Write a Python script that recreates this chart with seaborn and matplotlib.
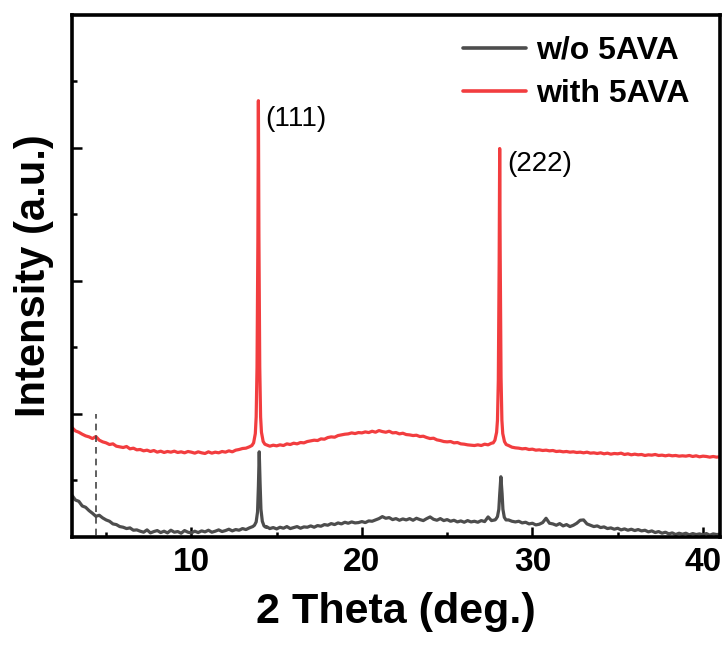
import numpy as np
import pandas as pd
import matplotlib
matplotlib.use("Agg")
import matplotlib.pyplot as plt
import seaborn as sns

# ---- XRD data -------------------------------------------------------------
# background scan on a regular 0.2 deg grid from 3.0 to 41.0 deg
scan_start, scan_stop, scan_step = 3.0, 41.0, 0.2

bg_without = [
    770, 700, 680, 610, 590, 540, 500, 455, 470, 430,
    400, 380, 340, 330, 300, 290, 270, 280, 245, 250,
    230, 215, 250, 205, 225, 240, 210, 230, 205, 245,
    215, 225, 200, 240, 215, 205, 230, 210, 235, 220,
    245, 215, 230, 250, 225, 240, 260, 235, 255, 245,
    270, 255, 280, 300, 330, 340, 320, 300, 270, 285,
    265, 290, 275, 300, 270, 285, 300, 275, 295, 290,
    310, 290, 315, 305, 330, 320, 345, 330, 355, 340,
    365, 350, 370, 355, 360, 375, 360, 385, 380, 400,
    420, 450, 425, 435, 405, 420, 395, 415, 400, 420,
    395, 425, 405, 390, 420, 445, 410, 395, 420, 390,
    405, 380, 395, 370, 385, 365, 390, 370, 380, 365,
    390, 375, 445, 390, 400, 410, 420, 410, 400, 380,
    370, 380, 355, 365, 340, 350, 325, 335, 360, 425,
    350, 340, 320, 345, 310, 330, 300, 320, 350, 395,
    400, 340, 320, 300, 310, 285, 295, 270, 280, 260,
    275, 250, 265, 245, 260, 240, 255, 235, 245, 220,
    235, 210, 225, 200, 215, 190, 205, 180, 200, 185,
    200, 175, 195, 180, 190, 175, 195, 170, 190, 180,
    185,
]

bg_with = [
    1790, 1740, 1720, 1690, 1665, 1650, 1625, 1655, 1600, 1575,
    1560, 1535, 1545, 1510, 1500, 1490, 1505, 1470, 1480, 1455,
    1460, 1440, 1450, 1430, 1445, 1420, 1435, 1415, 1430, 1420,
    1435, 1415, 1425, 1410, 1430, 1420, 1405, 1425, 1410, 1400,
    1425, 1405, 1420, 1410, 1430, 1420, 1440, 1425, 1450, 1460,
    1475, 1480, 1500, 1540, 1600, 1600, 1560, 1530, 1510, 1525,
    1515, 1530, 1520, 1545, 1535, 1555, 1545, 1565, 1560, 1580,
    1590, 1600, 1595, 1620, 1615, 1640, 1650, 1645, 1670, 1680,
    1690, 1695, 1710, 1700, 1715, 1710, 1725, 1715, 1735, 1720,
    1745, 1730, 1720, 1735, 1710, 1715, 1695, 1705, 1685, 1680,
    1670, 1675, 1655, 1660, 1640, 1625, 1630, 1605, 1595, 1580,
    1575, 1580, 1560, 1565, 1545, 1540, 1530, 1525, 1520, 1530,
    1520, 1540, 1530, 1555, 1570, 1600, 1600, 1560, 1520, 1495,
    1485, 1480, 1470, 1475, 1460, 1465, 1450, 1455, 1445, 1450,
    1440, 1445, 1430, 1435, 1425, 1430, 1420, 1425, 1415, 1420,
    1410, 1420, 1405, 1410, 1400, 1410, 1395, 1405, 1390, 1400,
    1395, 1405, 1385, 1395, 1380, 1390, 1380, 1385, 1370, 1380,
    1375, 1385, 1370, 1375, 1365, 1375, 1365, 1370, 1360, 1365,
    1360, 1370, 1355, 1365, 1350, 1360, 1355, 1345, 1355, 1345,
    1350,
]

# finely sampled Bragg reflections
p111_theta_without = [13.60, 13.70, 13.80, 13.88, 13.93, 13.98, 14.03, 14.08, 14.16, 14.26, 14.36]
p111_int_without = [300, 320, 370, 520, 900, 1425, 950, 560, 380, 310, 290]
p222_theta_without = [27.85, 27.95, 28.03, 28.08, 28.15, 28.22, 28.27, 28.35, 28.45]
p222_int_without = [410, 450, 560, 780, 1050, 800, 560, 440, 400]

p111_theta_with = [13.55, 13.65, 13.75, 13.80, 13.85, 13.90, 13.93, 13.96, 14.01, 14.06, 14.11, 14.21, 14.31]
p111_int_with = [1520, 1560, 1700, 1950, 2700, 4600, 6710, 4700, 2700, 1950, 1720, 1580, 1540]
p222_theta_with = [27.70, 27.80, 27.90, 27.95, 28.00, 28.05, 28.08, 28.11, 28.16, 28.21, 28.26, 28.36, 28.46]
p222_int_with = [1560, 1600, 1720, 1900, 2500, 4300, 5990, 4400, 2550, 1900, 1700, 1580, 1535]

samples = ["w/o 5AVA", "with 5AVA"]
colors = ["#4d4d4d", "#f23d3f"]

peak_labels = ["(111)", "(222)"]
peak_label_x = [14.33, 28.55]
peak_label_y = [6430, 5760]

marker_theta = 4.4
marker_top = 2000


def build_pattern(background, peaks):
    grid = np.round(scan_start + scan_step * np.arange(len(background)), 2)
    bg = np.asarray(background, dtype=float)
    keep = np.ones(len(grid), dtype=bool)
    for theta, _ in peaks:
        keep &= ~((grid >= min(theta)) & (grid <= max(theta)))
    xs = [grid[keep]] + [np.asarray(t, float) for t, _ in peaks]
    ys = [bg[keep]] + [np.asarray(v, float) for _, v in peaks]
    x = np.concatenate(xs)
    y = np.concatenate(ys)
    order = np.argsort(x)
    return x[order], y[order]


x0, y0 = build_pattern(bg_without, [(p111_theta_without, p111_int_without),
                                    (p222_theta_without, p222_int_without)])
x1, y1 = build_pattern(bg_with, [(p111_theta_with, p111_int_with),
                                 (p222_theta_with, p222_int_with)])

df = pd.concat([
    pd.DataFrame({"theta": x0, "intensity": y0, "sample": samples[0]}),
    pd.DataFrame({"theta": x1, "intensity": y1, "sample": samples[1]}),
], ignore_index=True)

# ---- styling ---------------------------------------------------------------
sns.set_theme(style="ticks")
plt.rcParams["font.family"] = ["Liberation Sans", "DejaVu Sans"]
plt.rcParams.update({
    "text.color": "black",
    "axes.labelcolor": "black",
    "xtick.color": "black",
    "ytick.color": "black",
    "axes.edgecolor": "black",
})

fig = plt.figure(figsize=(7.26, 6.45), dpi=100)
ax = fig.add_axes([72 / 726, 1 - 537 / 645, (720 - 72) / 726, (537 - 15) / 645])

sns.lineplot(data=df, x="theta", y="intensity", hue="sample",
             hue_order=samples, palette=dict(zip(samples, colors)),
             estimator=None, sort=True, linewidth=2.3, ax=ax)

ax.vlines(marker_theta, 0, marker_top, colors="#444444", linestyles=(0, (4, 3)),
          linewidth=1.2)

for lab, lx, ly in zip(peak_labels, peak_label_x, peak_label_y):
    ax.text(lx, ly, lab, fontsize=20, va="center", ha="left", color="black")

ax.set_xlim(3.0, 41.0)
ax.set_ylim(143, 8000)
ax.set_xticks([10, 20, 30, 40])
ax.set_xticks([5, 15, 25, 35], minor=True)
ax.set_yticks([2000, 4000, 6000])
ax.set_yticks([1000, 3000, 5000, 7000], minor=True)
ax.set_yticklabels([])

ax.tick_params(axis="both", which="major", direction="in", length=7, width=1.8,
               labelsize=24, pad=7, top=False, right=False, colors="black")
ax.tick_params(axis="both", which="minor", direction="in", length=3.5, width=1.8,
               top=False, right=False, colors="black")
for lbl in ax.get_xticklabels():
    lbl.set_fontweight("bold")

for side in ["left", "right", "top", "bottom"]:
    ax.spines[side].set_visible(True)
    ax.spines[side].set_linewidth(2.6)
    ax.spines[side].set_color("black")

ax.set_xlabel("2 Theta (deg.)", fontsize=31, fontweight="bold", labelpad=10,
              color="black")
ax.set_ylabel("Intensity (a.u.)", fontsize=30, fontweight="bold", labelpad=6,
              color="black")

leg = ax.legend(loc="upper right", bbox_to_anchor=(0.985, 1.0), frameon=False,
                prop={"weight": "bold", "size": 23}, handlelength=2.0,
                handletextpad=0.3, labelspacing=0.42, borderaxespad=0.25)
for line in leg.get_lines():
    line.set_linewidth(2.6)
for txt in leg.get_texts():
    txt.set_color("black")

fig.savefig("out.png", dpi=100)
